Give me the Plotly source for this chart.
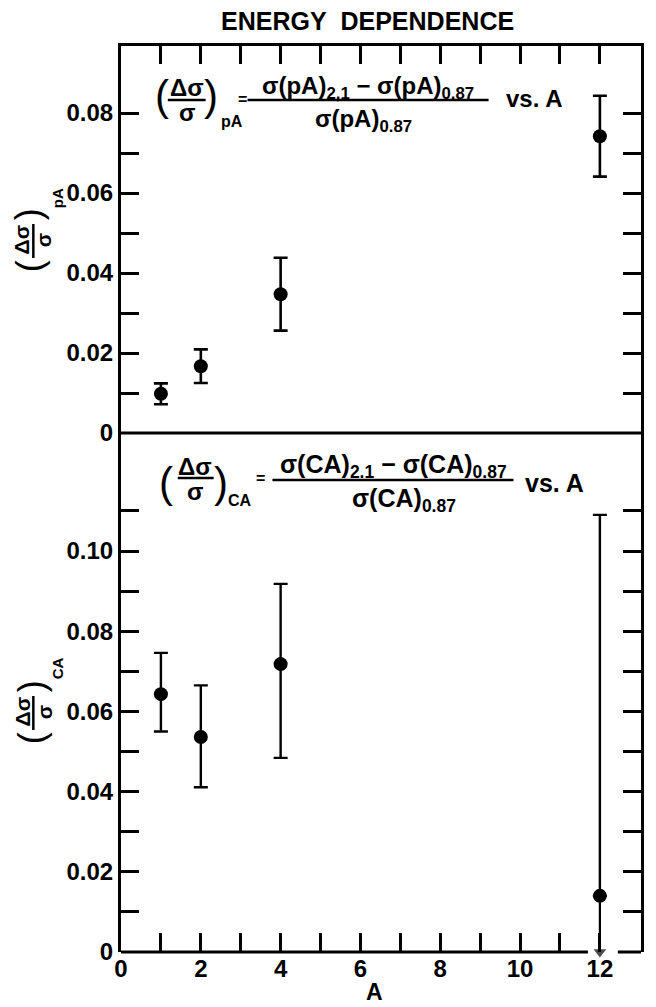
import plotly.graph_objects as go

# ---------------- data ----------------
A_vals = [1, 2, 4, 12]
pA_vals = [0.0098, 0.0167, 0.0347, 0.0742]
pA_err = [0.0026, 0.0042, 0.0091, 0.0101]

CA_vals = [0.0643, 0.0536, 0.0718, 0.0140]
CA_err_plus = [0.0103, 0.0129, 0.0200, 0.0950]
CA_err_minus = [0.0093, 0.0125, 0.0234, 0.0]   # last point: arrow down to 0
CA_limit_index = 3                             # point whose lower bound reaches 0
CA_lower_limit = 0.0

x_major = [0, 2, 4, 6, 8, 10, 12]
x_major_text = ["0", "2", "4", "6", "8", "10", "12"]
x_minor = [1, 3, 5, 7, 9, 11]
x_all = list(range(0, 13))

y_top_major = [0, 0.02, 0.04, 0.06, 0.08]
y_top_text = ["0", "0.02", "0.04", "0.06", "0.08"]
y_top_minor = [0.01, 0.03, 0.05, 0.07]

y_bot_major = [0, 0.02, 0.04, 0.06, 0.08, 0.10]
y_bot_text = ["0", "0.02", "0.04", "0.06", "0.08", "0.10"]
y_bot_minor = [0.01, 0.03, 0.05, 0.07, 0.09, 0.11]

# ---------------- layout geometry ----------------
FIG_W, FIG_H = 656, 1007
L, R, T, B = 121, 643, 46, 952
W, H = R - L, B - T
split_px = 433
split = (B - split_px) / H

X_MAX = 13.03
Y_TOP_MAX = 0.01 * (split_px - T) / 40.0
Y_BOT_MAX = 0.01 * (B - split_px) / 40.1


def px(x):
    return (x - L) / W


def py(y):
    return (B - y) / H


FONT = "Liberation Sans"
BLACK = "black"

fig = go.Figure()

fig.add_trace(go.Scatter(
    x=A_vals, y=pA_vals, mode="markers",
    marker=dict(color=BLACK, size=14),
    error_y=dict(type="data", array=pA_err, visible=True,
                 color=BLACK, thickness=2.6, width=7),
    xaxis="x2", yaxis="y2", showlegend=False, hoverinfo="skip",
))

fig.add_trace(go.Scatter(
    x=A_vals, y=CA_vals, mode="markers",
    marker=dict(color=BLACK, size=14),
    error_y=dict(type="data", symmetric=False, array=CA_err_plus,
                 arrayminus=CA_err_minus, visible=True,
                 color=BLACK, thickness=2.4, width=7),
    xaxis="x", yaxis="y", showlegend=False, hoverinfo="skip",
))

# lower-limit arrow for the A=12 point (line down to 0 with arrowhead)
fig.add_trace(go.Scatter(
    x=[A_vals[CA_limit_index], A_vals[CA_limit_index]],
    y=[CA_vals[CA_limit_index], CA_lower_limit],
    mode="lines+markers",
    line=dict(color=BLACK, width=2.2),
    marker=dict(symbol=["circle", "triangle-down"], size=[0, 11],
                color=BLACK, line=dict(width=0)),
    cliponaxis=False,
    xaxis="x", yaxis="y", showlegend=False, hoverinfo="skip",
))

tickfont = dict(family=FONT, size=24, color=BLACK, weight="bold")
minor_y = dict(ticks="inside", ticklen=18, tickwidth=2.5, tickcolor=BLACK,
               showgrid=False)

fig.update_layout(
    width=FIG_W, height=FIG_H,
    margin=dict(l=L, r=FIG_W - R, t=T, b=FIG_H - B, pad=0),
    paper_bgcolor="white", plot_bgcolor="white",
    showlegend=False,
    xaxis=dict(
        domain=[0, 1], anchor="y", range=[0, X_MAX],
        tickmode="array", tickvals=x_major, ticktext=x_major_text,
        ticks="inside", ticklen=19, tickwidth=2.5, tickcolor=BLACK,
        minor=dict(tickmode="array", tickvals=x_minor, ticks="inside",
                   ticklen=19, tickwidth=2.5, tickcolor=BLACK,
                   showgrid=False),
        showline=False, showgrid=False, zeroline=False,
        tickfont=tickfont,
    ),
    xaxis2=dict(
        domain=[0, 1], anchor="y2", range=[0, X_MAX], matches="x",
        side="top",
        tickmode="array", tickvals=x_all,
        ticks="inside", ticklen=18, tickwidth=2.5, tickcolor=BLACK,
        showticklabels=False,
        showline=True, linewidth=3, linecolor=BLACK,
        showgrid=False, zeroline=False,
    ),
    yaxis=dict(
        domain=[0, split], anchor="x", range=[0, Y_BOT_MAX],
        tickmode="array", tickvals=y_bot_major, ticktext=y_bot_text,
        ticks="inside", ticklen=18, tickwidth=2.5, tickcolor=BLACK,
        minor=dict(tickmode="array", tickvals=y_bot_minor, **minor_y),
        showline=True, linewidth=3, linecolor=BLACK, mirror="ticks",
        showgrid=False, zeroline=False, tickfont=tickfont,
    ),
    yaxis2=dict(
        domain=[split, 1], anchor="x2", range=[0, Y_TOP_MAX],
        tickmode="array", tickvals=y_top_major, ticktext=y_top_text,
        ticks="inside", ticklen=18, tickwidth=2.5, tickcolor=BLACK,
        minor=dict(tickmode="array", tickvals=y_top_minor, **minor_y),
        showline=True, linewidth=3, linecolor=BLACK, mirror="ticks",
        showgrid=False, zeroline=False, tickfont=tickfont,
    ),
)

# frame: divider and bottom line (with gap where the arrow passes)
line_style = dict(color=BLACK, width=3)
fig.add_shape(type="line", xref="paper", yref="paper",
              x0=0, x1=1, y0=split, y1=split, line=line_style)
fig.add_shape(type="line", xref="paper", yref="paper",
              x0=0, x1=11.7 / X_MAX, y0=0, y1=0, line=line_style)
fig.add_shape(type="line", xref="paper", yref="paper",
              x0=12.45 / X_MAX, x1=1, y0=0, y1=0, line=line_style)

annots = []


def txt(x, y, s, size=22, bold=True, angle=0):
    annots.append(dict(
        x=px(x), y=py(y), xref="paper", yref="paper", text=s,
        showarrow=False, xanchor="center", yanchor="middle",
        textangle=angle,
        font=dict(family=FONT, size=size, color=BLACK,
                  weight="bold" if bold else "normal"),
    ))


def hbar(x0, x1, y, w=2.5):
    fig.add_shape(type="line", xref="paper", yref="paper",
                  x0=px(x0), x1=px(x1), y0=py(y), y1=py(y),
                  line=dict(color=BLACK, width=w))


def vbar(x, y0, y1, w=2.5):
    fig.add_shape(type="line", xref="paper", yref="paper",
                  x0=px(x), x1=px(x), y0=py(y0), y1=py(y1),
                  line=dict(color=BLACK, width=w))


# title
txt(368, 21, "ENERGY\u00a0\u00a0DEPENDENCE", size=25, bold=True)

# top formula
txt(162, 96, "(", size=42, bold=False)
txt(187, 87, "Δσ", size=24)
hbar(168, 206, 100)
txt(187, 112, "σ", size=24)
txt(211, 96, ")", size=42, bold=False)
txt(232, 122, "pA", size=16)
txt(243, 100, "=", size=16)
txt(369, 87, "σ(pA)<sub>2,1</sub> − σ(pA)<sub>0.87</sub>", size=24)
hbar(248, 490, 100)
txt(364, 121, "σ(pA)<sub>0.87</sub>", size=24)
txt(536, 99, "vs. A", size=24)

# bottom formula
txt(166, 482, "(", size=42, bold=False)
txt(195, 466, "Δσ", size=24)
hbar(178, 214, 478)
txt(195, 492, "σ", size=24)
txt(221, 482, ")", size=42, bold=False)
txt(240, 500, "CA", size=16)
txt(261, 478, "=", size=16)
txt(395, 466, "σ(CA)<sub>2.1</sub> − σ(CA)<sub>0.87</sub>", size=25)
hbar(273, 515, 480)
txt(405, 500, "σ(CA)<sub>0.87</sub>", size=25)
txt(556, 483, "vs. A", size=25)

# rotated y-axis titles (fraction form)
# top: (Δσ/σ)_pA
txt(29, 266, "(", size=36, bold=False, angle=-90)
txt(22, 240, "Δσ", size=21, angle=-90)
vbar(33, 224, 258)
txt(44, 240, "σ", size=21, angle=-90)
txt(29, 214, ")", size=36, bold=False, angle=-90)
txt(58, 198, "pA", size=15, angle=-90)
# bottom: (Δσ/σ)_CA
txt(31, 738, "(", size=36, bold=False, angle=-90)
txt(22, 712, "Δσ", size=21, angle=-90)
vbar(33, 696, 730)
txt(44, 712, "σ", size=21, angle=-90)
txt(31, 686, ")", size=36, bold=False, angle=-90)
txt(57, 668, "CA", size=15, angle=-90)

# x-axis title
txt(375, 992, "A", size=23)

fig.update_layout(annotations=annots)

fig.write_html("out.html")
